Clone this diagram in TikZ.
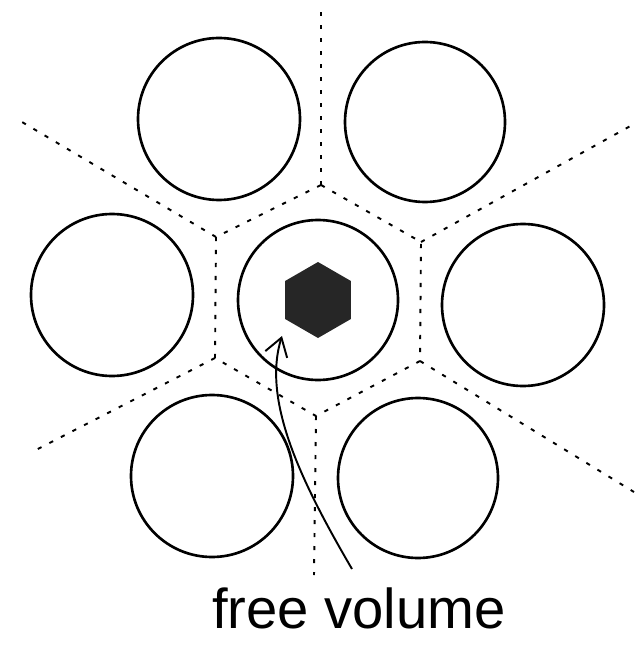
\documentclass[tikz,border=0pt]{standalone}
\usepackage{fontspec}
\setsansfont{Liberation Sans}
\usepackage{tikz}
\usetikzlibrary{arrows.meta}

\tikzset{
  sfera/.style={line width=1.5pt},
  confine/.style={line width=1.1pt, dash pattern=on 2.4pt off 5pt},
  freccia/.style={line width=1.1pt, -{Straight Barb[length=10pt,width=13pt]}}
}

\begin{document}
\begin{tikzpicture}[x=0.02cm, y=-0.02cm]

  % Cornice (dimensioni dell'immagine)
  \useasboundingbox (0,0) rectangle (637,648);

  % Le sette sfere (impacchettamento esagonale)
  \draw[sfera] (318,300) circle (80);
  \draw[sfera] (219,119) circle (81);
  \draw[sfera] (425,122) circle (80);
  \draw[sfera] (112,295) circle (81);
  \draw[sfera] (523,305) circle (81);
  \draw[sfera] (212,476) circle (81);
  \draw[sfera] (418,478) circle (80);

  % Vertici della cella di Voronoi attorno alla sfera centrale
  \coordinate (vT)  at (321,185);
  \coordinate (vUR) at (421,242);
  \coordinate (vLR) at (420,361);
  \coordinate (vB)  at (316,416);
  \coordinate (vLL) at (215,358);
  \coordinate (vUL) at (216,237);

  % Cella centrale
  \draw[confine] (vT) -- (vUR) -- (vLR) -- (vB) -- (vLL) -- (vUL) -- cycle;

  % Confini verso l'esterno
  \draw[confine] (vT)  -- (321,4);
  \draw[confine] (vUL) -- (22,122);
  \draw[confine] (vUR) -- (634,124);
  \draw[confine] (vLL) -- (30,453);
  \draw[confine] (vLR) -- (634,492);
  \draw[confine] (vB)  -- (314,575);

  % Volume libero (esagono scuro)
  \fill[black!85] (318,300) +(90:38) -- +(150:38) -- +(210:38)
    -- +(270:38) -- +(330:38) -- +(30:38) -- cycle;

  % Etichetta e freccia
  \node[font=\sffamily\fontsize{32}{36}\selectfont, anchor=base] (etichetta)
    at (359,628) {free volume};
  \coordinate (coda) at (352,569);
  \coordinate (punta) at (282,336);
  \draw[freccia] (coda) .. controls (300,480) and (262,400) .. (punta);

\end{tikzpicture}
\end{document}
